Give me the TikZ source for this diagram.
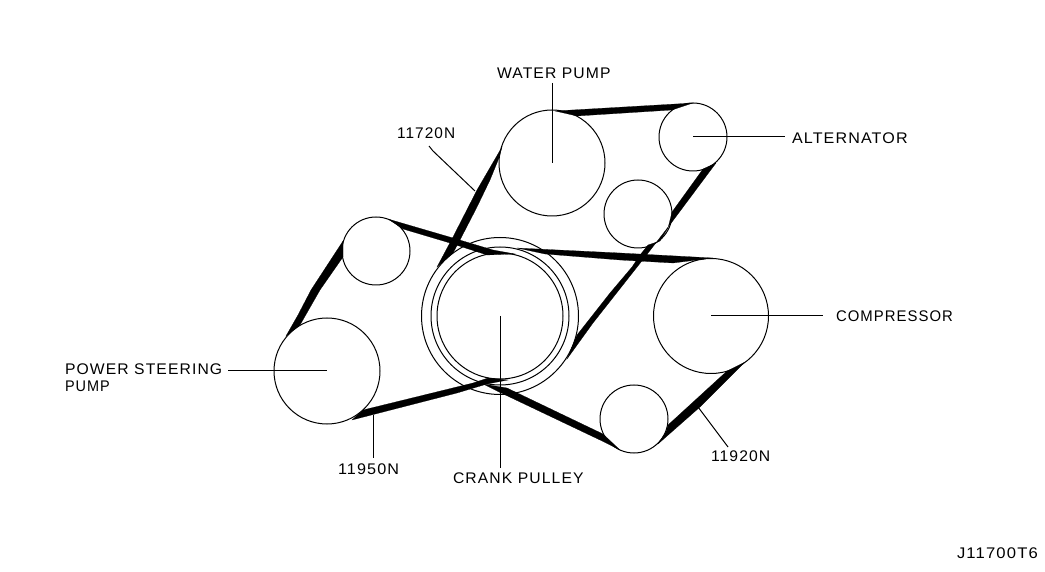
\documentclass[tikz,border=0pt]{standalone}
\usepackage{fontspec}
\usepackage{graphicx}
\newfontfamily\labfont[LetterSpace=7]{Liberation Sans}
\newcommand{\lw}[2]{\scalebox{#1}[1]{#2}}
\tikzset{
  pulley/.style={draw=black,circle,line width=0.5pt,inner sep=0pt,outer sep=0pt,minimum size=#1},
  belt/.style={fill=black,draw=black,line width=0.1pt},
  leader/.style={draw=black,line width=0.5pt},
  lab/.style={anchor=base west,inner sep=0pt,outer sep=0pt,font=\labfont\fontsize{7.7}{9}\selectfont,text=black}
}
\begin{document}
\begin{tikzpicture}[x=0.5pt,y=-0.5pt]
\useasboundingbox (0,0) rectangle (1045,572);
\fill[white] (0,0) rectangle (1045,572);
% pulleys
\node[pulley=53pt] (wp) at (552,163) {};
\node[pulley=34pt] (alt) at (693,137) {};
\node[pulley=34pt] (idu) at (638,214) {};
\node[pulley=57.5pt] (comp) at (711,316) {};
\node[pulley=34pt] (idb) at (634,419) {};
\node[pulley=53pt] (ps) at (327,371) {};
\node[pulley=34pt] (idl) at (376,251) {};
\node[pulley=78.5pt] (cro) at (500,316) {};
\node[pulley=69pt] (crm) at (500,316) {};
\node[pulley=63pt] (cri) at (500,316) {};
% belts
\path[belt] (555,111) -- (693,103) -- (672,110) -- (577,116) -- cycle;
\path[belt] (716,163) -- (672,222) -- (645,257) -- (593,323) -- (567,359) -- (577,335) -- (610,293) -- (632,267) -- (640,255) -- (648,245) -- (660,241) -- (668,228) -- (672,212) -- (703,169) -- cycle;
\path[belt] (517,248) -- (620,253) -- (713,258) -- (697,260) -- (673,263) -- (620,260) -- (545,254) -- cycle;
\path[belt] (388,219) -- (453,238) -- (493,250) -- (515,254) -- (487,255) -- (450,243) -- (403,229) -- cycle;
\path[belt] (502,147) -- (477,190) -- (453,237) -- (437,267) -- (453,253) -- (460,240) -- (477,207) -- (490,180) -- (499,158) -- cycle;
\path[belt] (343,241) -- (311,290) -- (298,315) -- (286,336) -- (300,325) -- (320,290) -- (343,257) -- cycle;
\path[belt] (352,420) -- (363,410) -- (473,383) -- (488,378) -- (508,380) -- (487,384) -- (457,393) -- cycle;
\path[belt] (483,384) -- (507,388) -- (603,434) -- (620,450) -- (600,440) -- (497,391) -- cycle;
\path[belt] (745,362) -- (727,371) -- (668,425) -- (666,432) -- (658,444) -- (700,407) -- cycle;
% labels
\node[lab] (twp) at (497,79) {\lw{1.02}{WATER PUMP}};
\node[lab] (t117) at (397,139) {11720N};
\node[lab] (talt) at (792,144) {\lw{1.045}{ALTERNATOR}};
\node[lab] (tcomp) at (836,322) {\lw{0.967}{COMPRESSOR}};
\node[lab] (tps) at (65,375) {\lw{1.02}{POWER STEERING}};
\node[lab] (tps2) at (65,392) {\lw{0.94}{PUMP}};
\node[lab] (t119) at (338,474) {\lw{1.05}{11950N}};
\node[lab] (tcr) at (453,483) {\lw{1.02}{CRANK PULLEY}};
\node[lab] (t1192) at (711,461) {\lw{1.02}{11920N}};
\node[lab] (tj) at (957,558) {\lw{1.08}{J11700T6}};
% leaders
\coordinate (lwp) at (552,83);
\coordinate (lalt) at (785,137);
\coordinate (lcomp) at (823,316);
\coordinate (lps) at (228,371);
\coordinate (lcr) at (500,468);
\coordinate (l1a) at (373,415);
\coordinate (l1b) at (373,458);
\coordinate (l2a) at (429,146);
\coordinate (l2b) at (433,151);
\coordinate (l2c) at (475,191);
\coordinate (l3a) at (698,407);
\coordinate (l3b) at (728,447);
\draw[leader] (lwp) -- (wp.center);
\draw[leader] (alt.center) -- (lalt);
\draw[leader] (comp.center) -- (lcomp);
\draw[leader] (lps) -- (ps.center);
\draw[leader] (cro.center) -- (lcr);
\draw[leader] (l1a) -- (l1b);
\draw[leader] (l2a) -- (l2b) -- (l2c);
\draw[leader] (l3a) -- (l3b);
\end{tikzpicture}
\end{document}
